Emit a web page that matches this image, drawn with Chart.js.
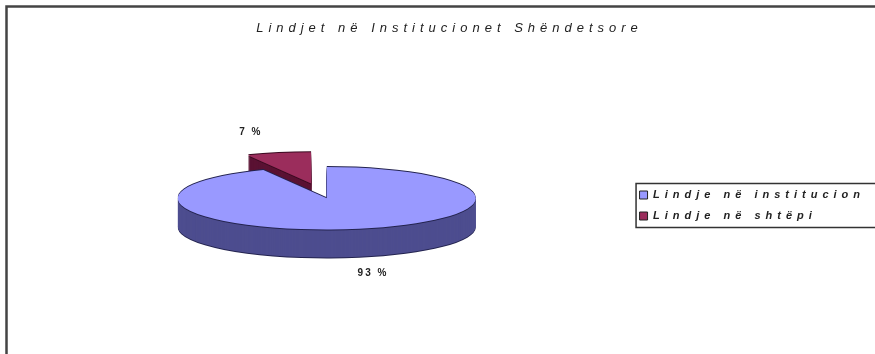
<!DOCTYPE html>
<html><head><meta charset="utf-8">
<script src="https://cdn.jsdelivr.net/npm/chart.js@4/dist/chart.umd.min.js"></script>
<style>html,body{margin:0;padding:0;background:#fff}#wrap{width:875px;height:354px;position:relative}</style>
</head><body><div id="wrap"><canvas id="c" width="875" height="354"></canvas></div>
<script>
const chartTitle = 'Lindjet në Institucionet Shëndetsore';
const categories = ['Lindje në institucion', 'Lindje në shtëpi'];
const values = [93, 7];
const topColors = ['#9999FF', '#9B2D5C'];
const sideColors = ['#4D4D8F', '#5A1233'];
const edgeColors = ['#23234F', '#3A0A20'];
const explode = [0, 72];

const TILT = 0.21, DEPTH = 28, SPACING = '5px';

function copyOpts(o) { const r = {}; for (const k in o) r[k] = o[k]; return r; }

const pie3d = {
  id: 'pie3d',
  beforeLayout(chart) { chart.ctx.letterSpacing = SPACING; },
  beforeDraw(chart) {
    const ctx = chart.ctx;
    ctx.save();
    ctx.strokeStyle = '#444'; ctx.lineWidth = 2.5;
    ctx.strokeRect(6.5, 6.5, 900, 400);
    ctx.restore();
    ctx.letterSpacing = SPACING;
  },
  beforeDatasetsDraw(chart) {
    const ctx = chart.ctx;
    const meta = chart.getDatasetMeta(0);
    const ds = chart.data.datasets[0];
    const list = meta.data.map((arc, i) => ({ arc, i, h: (arc.startAngle + arc.endAngle) / 2 }));
    list.sort((a, b) => Math.sin(a.h) - Math.sin(b.h));
    for (const { arc, i, h } of list) {
      const off = arc.options.offset || 0;
      const cy = arc.y;
      const fake = Object.create(arc);
      const layers = [[DEPTH + 1, ds.edgeColor[i]]];
      for (let d = DEPTH; d >= 2; d--) layers.push([d, ds.sideColor[i]]);
      layers.push([1, ds.edgeColor[i]], [-1, ds.edgeColor[i]], [0, ds.backgroundColor[i]]);
      for (const [d, color] of layers) {
        const o = copyOpts(arc.options);
        o.offset = 0; o.borderWidth = 0;
        o.backgroundColor = color;
        o.borderColor = color;
        fake.options = o;
        ctx.save();
        ctx.translate(0, cy + d);
        ctx.scale(1, TILT);
        ctx.translate(0, -cy);
        ctx.translate(Math.cos(h) * off, Math.sin(h) * off);
        fake.draw(ctx);
        ctx.restore();
      }
    }
    // percentage labels
    const total = ds.data.reduce((a, b) => a + b, 0);
    ctx.save();
    ctx.letterSpacing = '2px';
    ctx.font = 'bold 10px "Liberation Sans", Arial, sans-serif';
    ctx.fillStyle = '#222';
    ctx.textAlign = 'center'; ctx.textBaseline = 'middle';
    for (const { arc, i, h } of list) {
      const off = arc.options.offset || 0;
      const R = arc.outerRadius + off;
      const ex = arc.x + Math.cos(h) * R;
      const ey = arc.y + TILT * Math.sin(h) * R + (Math.sin(h) > 0 ? DEPTH : 0);
      const txt = Math.round(ds.data[i] / total * 100) + ' %';
      ctx.fillText(txt, ex + Math.cos(h) * 95 - 7, ey + Math.sin(h) * 19 - 2);
    }
    ctx.restore();
    ctx.letterSpacing = SPACING;
    return false;
  },
  afterDraw(chart) {
    const ctx = chart.ctx;
    const hb = chart.legend.legendHitBoxes;
    if (!hb || !hb.length) return;
    const last = hb[hb.length - 1];
    const top = hb[0].top - 6, bottom = last.top + last.height + 6, left = hb[0].left - 3.5;
    ctx.save();
    ctx.strokeStyle = '#333'; ctx.lineWidth = 1.5;
    ctx.strokeRect(left, top, 900, bottom - top);
    ctx.restore();
  }
};

new Chart(document.getElementById('c'), {
  type: 'pie',
  data: {
    labels: categories,
    datasets: [{
      data: values,
      backgroundColor: topColors,
      sideColor: sideColors,
      edgeColor: edgeColors,
      borderColor: '#222',
      borderWidth: 1,
      offset: explode
    }]
  },
  options: {
    responsive: false,
    animation: false,
    events: [],
    radius: 149,
    rotation: 0,
    layout: { padding: { left: 24, right: 0, top: 0, bottom: 4 } },
    plugins: {
      title: {
        display: true, text: chartTitle, color: '#222',
        font: { size: 13, style: 'italic', family: '"Liberation Sans", Arial, sans-serif', weight: 'normal' },
        padding: { top: 21, bottom: 10 }
      },
      legend: {
        position: 'right',
        fullSize: false,
        title: { display: true, text: '', font: { size: 12 }, padding: 0 },
        labels: {
          boxWidth: 8, boxHeight: 8, padding: 10, color: '#222',
          font: { size: 11, style: 'italic', weight: 'bold', family: '"Liberation Sans", Arial, sans-serif' }
        }
      },
      tooltip: { enabled: false }
    }
  },
  plugins: [pie3d]
});
</script>
</body></html>
